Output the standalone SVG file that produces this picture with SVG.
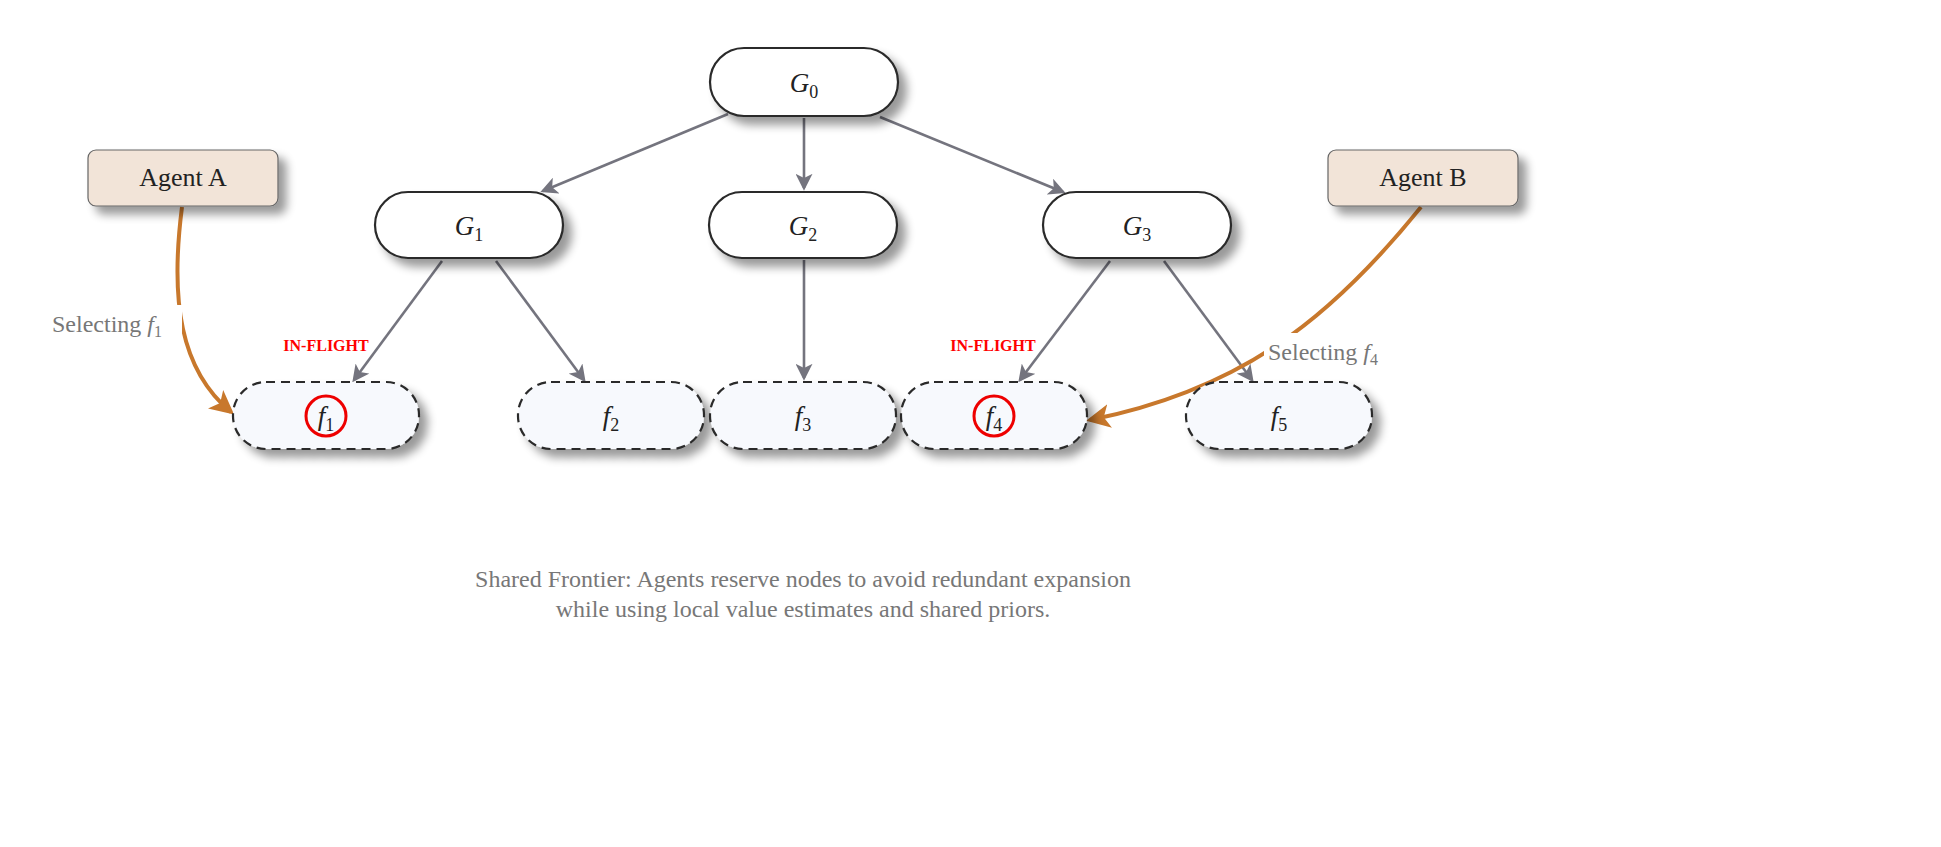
<svg xmlns="http://www.w3.org/2000/svg" width="1941" height="847" viewBox="0 0 1941 847">
<defs>
<filter id="sh" x="-20%" y="-30%" width="150%" height="170%"><feGaussianBlur in="SourceAlpha" stdDeviation="5"/><feOffset dx="8" dy="8"/><feComponentTransfer><feFuncA type="linear" slope="0.4"/></feComponentTransfer><feMerge><feMergeNode/><feMergeNode in="SourceGraphic"/></feMerge></filter>
<marker id="ar" viewBox="0 0 12 12" refX="10" refY="6" markerWidth="17" markerHeight="17" markerUnits="userSpaceOnUse" orient="auto"><path d="M0,0 L12,6 L0,12 L3,6 Z" fill="#74747e"/></marker>
<marker id="ao" viewBox="0 0 12 12" refX="10" refY="6" markerWidth="24" markerHeight="24" markerUnits="userSpaceOnUse" orient="auto"><path d="M0,0 L12,6 L0,12 L3,6 Z" fill="#c8782c"/></marker>
</defs>
<style>
.g{fill:#fff;stroke:#2a2a2a;stroke-width:2.2}
.f{fill:#f7f9fd;stroke:#2a2a2a;stroke-width:2.2;stroke-dasharray:9 6}
.ag{fill:#f2e4d8;stroke:#666;stroke-width:1.2}
.m{font-family:"Liberation Serif",serif;font-style:italic;font-size:27px;fill:#222;text-anchor:middle}
.s{font-size:18px;font-style:normal}
.t{font-family:"Liberation Serif",serif;font-size:26px;fill:#222;text-anchor:middle}
.e{stroke:#74747e;stroke-width:2.6;fill:none;marker-end:url(#ar)}
.o{stroke:#c8782c;stroke-width:4;fill:none;marker-end:url(#ao)}
.lb{font-family:"Liberation Serif",serif;font-size:24px;fill:#777}
.inf{font-family:"Liberation Serif",serif;font-weight:bold;font-size:16px;fill:#f00;text-anchor:middle}
.cap{font-family:"Liberation Serif",serif;font-size:24px;fill:#777;text-anchor:middle}
</style>
<rect width="1941" height="847" fill="#fff"/>
<g id="edges">
<line class="e" x1="728" y1="114" x2="543" y2="191"/>
<line class="e" x1="804" y1="118" x2="804" y2="188"/>
<line class="e" x1="880" y1="117" x2="1063" y2="192"/>
<line class="e" x1="442" y1="261" x2="354" y2="380"/>
<line class="e" x1="496" y1="261" x2="584" y2="380"/>
<line class="e" x1="804" y1="260" x2="804" y2="378"/>
<line class="e" x1="1110" y1="261" x2="1020" y2="380"/>
<line class="e" x1="1164" y1="261" x2="1252" y2="380"/>
<path class="o" d="M182,207 C170,300 180,370 231,412"/>
<path class="o" d="M1421,207 C1330,320 1240,390 1090,420"/>
</g>
<g id="G0"><rect class="g" x="710" y="48" width="188" height="68" rx="34" filter="url(#sh)"/><text class="m" x="804" y="92">G<tspan class="s" dy="6">0</tspan></text></g>
<g id="G1"><rect class="g" x="375" y="192" width="188" height="66" rx="33" filter="url(#sh)"/><text class="m" x="469" y="235">G<tspan class="s" dy="6">1</tspan></text></g>
<g id="G2"><rect class="g" x="709" y="192" width="188" height="66" rx="33" filter="url(#sh)"/><text class="m" x="803" y="235">G<tspan class="s" dy="6">2</tspan></text></g>
<g id="G3"><rect class="g" x="1043" y="192" width="188" height="66" rx="33" filter="url(#sh)"/><text class="m" x="1137" y="235">G<tspan class="s" dy="6">3</tspan></text></g>
<g id="agentA"><rect class="ag" x="88" y="150" width="190" height="56" rx="8" filter="url(#sh)"/><text class="t" x="183" y="186">Agent A</text></g>
<g id="agentB"><rect class="ag" x="1328" y="150" width="190" height="56" rx="8" filter="url(#sh)"/><text class="t" x="1423" y="186">Agent B</text></g>
<g id="f1"><rect class="f" x="233" y="382" width="186" height="67" rx="33" filter="url(#sh)"/><text class="m" x="326" y="425">f<tspan class="s" dy="6">1</tspan></text><circle cx="326" cy="416" r="20" fill="none" stroke="#e00" stroke-width="3"/></g>
<g id="f2"><rect class="f" x="518" y="382" width="186" height="67" rx="33" filter="url(#sh)"/><text class="m" x="611" y="425">f<tspan class="s" dy="6">2</tspan></text></g>
<g id="f3"><rect class="f" x="710" y="382" width="186" height="67" rx="33" filter="url(#sh)"/><text class="m" x="803" y="425">f<tspan class="s" dy="6">3</tspan></text></g>
<g id="f4"><rect class="f" x="901" y="382" width="186" height="67" rx="33" filter="url(#sh)"/><text class="m" x="994" y="425">f<tspan class="s" dy="6">4</tspan></text><circle cx="994" cy="416" r="20" fill="none" stroke="#e00" stroke-width="3"/></g>
<g id="f5"><rect class="f" x="1186" y="382" width="186" height="67" rx="33" filter="url(#sh)"/><text class="m" x="1279" y="425">f<tspan class="s" dy="6">5</tspan></text></g>
<g id="labels">
<rect x="48" y="305" width="134" height="36" fill="#fff"/>
<text class="lb" x="52" y="332">Selecting <tspan font-style="italic">f</tspan><tspan font-size="16" dy="5">1</tspan></text>
<rect x="1264" y="333" width="134" height="36" fill="#fff"/>
<text class="lb" x="1268" y="360">Selecting <tspan font-style="italic">f</tspan><tspan font-size="16" dy="5">4</tspan></text>
<text class="inf" x="326" y="351">IN-FLIGHT</text>
<text class="inf" x="993" y="351">IN-FLIGHT</text>
<text class="cap" x="803" y="587">Shared Frontier: Agents reserve nodes to avoid redundant expansion</text>
<text class="cap" x="803" y="617">while using local value estimates and shared priors.</text>
</g>
</svg>
